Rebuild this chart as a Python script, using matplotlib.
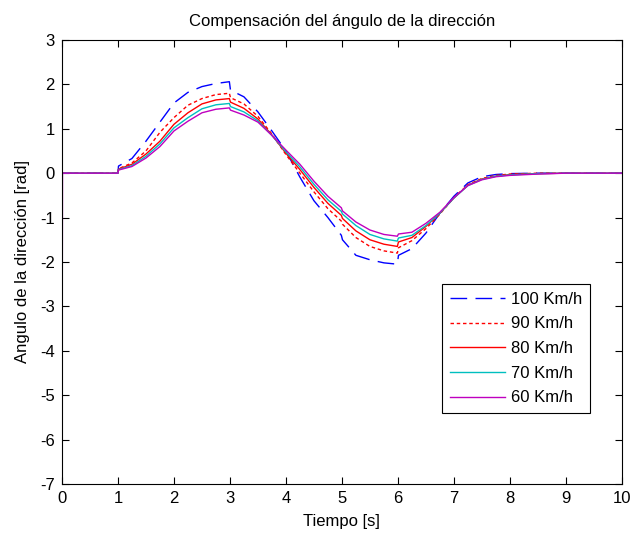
import matplotlib
matplotlib.use("Agg")
import matplotlib.pyplot as plt

plt.rcParams["font.family"] = ["Liberation Sans", "DejaVu Sans"]
plt.rcParams["axes.unicode_minus"] = False

# time samples (s)
t = [0.0, 0.01, 1.0, 1.01, 1.25, 1.5, 1.75, 2.0, 2.25, 2.5, 2.75, 2.99, 3.01,
     3.25, 3.5, 3.75, 4.0, 4.25, 4.5, 4.75, 4.99, 5.01, 5.25, 5.5, 5.75, 5.99,
     6.01, 6.25, 6.5, 6.75, 7.0, 7.25, 7.5, 7.75, 8.0, 8.5, 9.0, 10.0]

# steering angle (rad) per speed
v100 = [0.0, 0.0, 0.0, 0.16, 0.33, 0.72, 1.15, 1.58, 1.82, 1.95, 2.02, 2.06, 1.87,
        1.72, 1.38, 0.95, 0.50, -0.09, -0.62, -1.00, -1.40, -1.50, -1.85, -1.95, -2.02, -2.05,
        -1.85, -1.70, -1.35, -0.90, -0.52, -0.22, -0.08, -0.03, -0.01, 0.0, 0.0, 0.0]
v90 = [0.0, 0.0, 0.0, 0.10, 0.23, 0.50, 0.92, 1.25, 1.53, 1.68, 1.77, 1.80, 1.70,
       1.56, 1.28, 0.88, 0.42, 0.00, -0.42, -0.80, -1.08, -1.15, -1.45, -1.65, -1.75, -1.80,
       -1.68, -1.52, -1.25, -0.92, -0.55, -0.26, -0.12, -0.05, -0.02, 0.0, 0.0, 0.0]
v80 = [0.0, 0.0, 0.0, 0.09, 0.20, 0.43, 0.72, 1.10, 1.36, 1.56, 1.65, 1.68, 1.60,
       1.46, 1.22, 0.86, 0.45, 0.08, -0.32, -0.68, -0.95, -1.02, -1.30, -1.50, -1.60, -1.65,
       -1.55, -1.45, -1.20, -0.90, -0.56, -0.27, -0.13, -0.07, -0.03, -0.01, 0.0, 0.0]
v70 = [0.0, 0.0, 0.0, 0.08, 0.17, 0.38, 0.66, 1.02, 1.25, 1.45, 1.54, 1.57, 1.50,
       1.38, 1.18, 0.85, 0.48, 0.14, -0.25, -0.60, -0.86, -0.92, -1.18, -1.38, -1.48, -1.53,
       -1.46, -1.40, -1.18, -0.90, -0.56, -0.28, -0.14, -0.07, -0.04, -0.01, 0.0, 0.0]
v60 = [-6.7, 0.0, 0.0, 0.07, 0.15, 0.34, 0.60, 0.95, 1.17, 1.36, 1.44, 1.47, 1.42,
       1.31, 1.15, 0.85, 0.52, 0.20, -0.18, -0.52, -0.78, -0.85, -1.10, -1.28, -1.38, -1.42,
       -1.37, -1.33, -1.13, -0.88, -0.55, -0.28, -0.15, -0.08, -0.05, -0.02, 0.0, 0.0]

labels = ["100 Km/h", "90 Km/h", "80 Km/h", "70 Km/h", "60 Km/h"]


def main():
    fig = plt.figure(figsize=(6.32, 5.33), dpi=100)
    ax = fig.add_axes([0.098, 0.092, 0.886, 0.833])

    ax.plot(t, v100, color="#0000ff", lw=1.0, dashes=(12, 6), label=labels[0])
    ax.plot(t, v90, color="#ff0000", lw=1.0, dashes=(2.5, 2), label=labels[1])
    ax.plot(t, v80, color="#ff0000", lw=1.0, label=labels[2])
    ax.plot(t, v70, color="#00bfbf", lw=1.0, label=labels[3])
    ax.plot(t, v60, color="#bf00bf", lw=1.0, label=labels[4])

    ax.set_xlim(0, 10)
    ax.set_ylim(-7, 3)
    ax.set_xticks(range(0, 11))
    ax.set_yticks(range(-7, 4))
    ax.tick_params(direction="in", top=True, right=True, labelsize=12, length=5, width=0.8, pad=5)
    for s in ax.spines.values():
        s.set_linewidth(0.8)

    ax.set_title("Compensación del ángulo de la dirección", fontsize=12, pad=10)
    ax.set_xlabel("Tiempo [s]", fontsize=12, labelpad=6)
    ax.set_ylabel("Angulo de la dirección [rad]", fontsize=12, labelpad=7)

    leg = ax.legend(loc="upper right", bbox_to_anchor=(0.943, 0.45), borderaxespad=0,
                    fontsize=12, fancybox=False, framealpha=1, edgecolor="black",
                    handlelength=3.3, handletextpad=0.4, labelspacing=0.58, borderpad=0.45)
    leg.get_frame().set_linewidth(0.8)

    fig.savefig("out.png", dpi=100)


if __name__ == "__main__":
    main()
